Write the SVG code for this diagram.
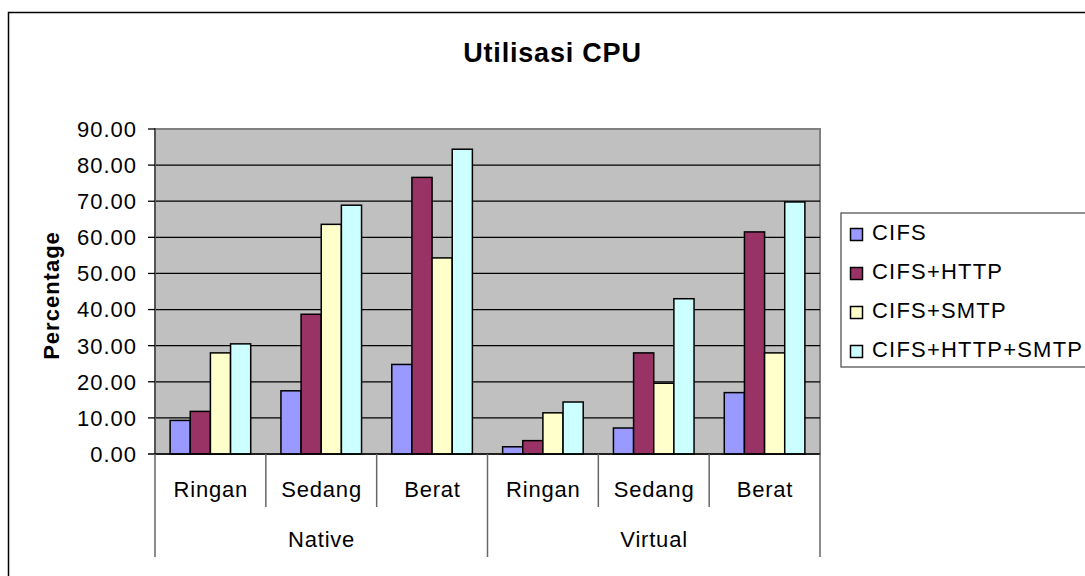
<svg xmlns="http://www.w3.org/2000/svg" width="1085" height="576" viewBox="0 0 1085 576">
<style>
text{font-family:"Liberation Sans",Arial,sans-serif;fill:#000}
.t{font-size:22px;letter-spacing:1.2px}
.tick{font-size:22px;letter-spacing:1px;text-anchor:end}
.cat{font-size:22px;letter-spacing:0.8px;text-anchor:middle}
.grid{stroke:#000;stroke-width:1.3}
.bar{stroke:#000;stroke-width:1.5}
.s1{fill:#9999FF}.s2{fill:#993366}.s3{fill:#FFFFCC}.s4{fill:#CCFFFF}
.ax{stroke:#000;stroke-width:1.3}
.div{stroke:#666;stroke-width:1.5}
</style>
<rect x="0" y="0" width="1085" height="576" fill="#fff"/>
<rect id="chartArea" x="8.5" y="12.5" width="1100" height="600" fill="#fff" stroke="#000" stroke-width="1.5"/>
<text id="title" x="552.5" y="62" text-anchor="middle" style="font-size:27px;font-weight:bold;letter-spacing:0.8px">Utilisasi CPU</text>
<g id="plot">
<rect x="155" y="129" width="665" height="325" fill="#C0C0C0" stroke="#808080" stroke-width="2"/>
<line class="grid" x1="155" y1="417.89" x2="820" y2="417.89"/>
<line class="grid" x1="155" y1="381.78" x2="820" y2="381.78"/>
<line class="grid" x1="155" y1="345.67" x2="820" y2="345.67"/>
<line class="grid" x1="155" y1="309.56" x2="820" y2="309.56"/>
<line class="grid" x1="155" y1="273.44" x2="820" y2="273.44"/>
<line class="grid" x1="155" y1="237.33" x2="820" y2="237.33"/>
<line class="grid" x1="155" y1="201.22" x2="820" y2="201.22"/>
<line class="grid" x1="155" y1="165.11" x2="820" y2="165.11"/>
</g>
<g id="bars">
<rect class="bar s1" x="170.11" y="420.42" width="20.15" height="33.58"/>
<rect class="bar s2" x="190.26" y="411.39" width="20.15" height="42.61"/>
<rect class="bar s3" x="210.41" y="352.89" width="20.15" height="101.11"/>
<rect class="bar s4" x="230.56" y="343.86" width="20.15" height="110.14"/>
<rect class="bar s1" x="280.94" y="390.81" width="20.15" height="63.19"/>
<rect class="bar s2" x="301.09" y="314.25" width="20.15" height="139.75"/>
<rect class="bar s3" x="321.24" y="224.34" width="20.15" height="229.66"/>
<rect class="bar s4" x="341.39" y="205.20" width="20.15" height="248.80"/>
<rect class="bar s1" x="391.78" y="364.45" width="20.15" height="89.55"/>
<rect class="bar s2" x="411.93" y="177.40" width="20.15" height="276.60"/>
<rect class="bar s3" x="432.08" y="257.92" width="20.15" height="196.08"/>
<rect class="bar s4" x="452.23" y="149.23" width="20.15" height="304.77"/>
<rect class="bar s1" x="502.61" y="446.78" width="20.15" height="7.22"/>
<rect class="bar s2" x="522.76" y="440.64" width="20.15" height="13.36"/>
<rect class="bar s3" x="542.91" y="412.83" width="20.15" height="41.17"/>
<rect class="bar s4" x="563.06" y="402.00" width="20.15" height="52.00"/>
<rect class="bar s1" x="613.44" y="428.00" width="20.15" height="26.00"/>
<rect class="bar s2" x="633.59" y="352.89" width="20.15" height="101.11"/>
<rect class="bar s3" x="653.74" y="383.22" width="20.15" height="70.78"/>
<rect class="bar s4" x="673.89" y="298.73" width="20.15" height="155.27"/>
<rect class="bar s1" x="724.28" y="392.61" width="20.15" height="61.39"/>
<rect class="bar s2" x="744.43" y="231.92" width="20.15" height="222.08"/>
<rect class="bar s3" x="764.58" y="352.89" width="20.15" height="101.11"/>
<rect class="bar s4" x="784.73" y="201.95" width="20.15" height="252.05"/>
</g>
<g id="axes">
<line x1="155" y1="128" x2="155" y2="455" stroke="#555" stroke-width="2"/>
<line class="ax" x1="148" y1="454" x2="820" y2="454"/>
<line class="ax" x1="148" y1="417.89" x2="155" y2="417.89"/>
<line class="ax" x1="148" y1="381.78" x2="155" y2="381.78"/>
<line class="ax" x1="148" y1="345.67" x2="155" y2="345.67"/>
<line class="ax" x1="148" y1="309.56" x2="155" y2="309.56"/>
<line class="ax" x1="148" y1="273.44" x2="155" y2="273.44"/>
<line class="ax" x1="148" y1="237.33" x2="155" y2="237.33"/>
<line class="ax" x1="148" y1="201.22" x2="155" y2="201.22"/>
<line class="ax" x1="148" y1="165.11" x2="155" y2="165.11"/>
<line class="ax" x1="148" y1="129" x2="155" y2="129"/>
<line class="div" x1="155" y1="454" x2="155" y2="557"/>
<line class="div" x1="265.83" y1="454" x2="265.83" y2="507"/>
<line class="div" x1="376.67" y1="454" x2="376.67" y2="507"/>
<line class="div" x1="487.5" y1="454" x2="487.5" y2="557"/>
<line class="div" x1="598.33" y1="454" x2="598.33" y2="507"/>
<line class="div" x1="709.17" y1="454" x2="709.17" y2="507"/>
<line class="div" x1="820" y1="454" x2="820" y2="557"/>
</g>
<g id="yLabels">
<text class="tick" x="137" y="461.8">0.00</text>
<text class="tick" x="137" y="425.7">10.00</text>
<text class="tick" x="137" y="389.6">20.00</text>
<text class="tick" x="137" y="353.5">30.00</text>
<text class="tick" x="137" y="317.4">40.00</text>
<text class="tick" x="137" y="281.2">50.00</text>
<text class="tick" x="137" y="245.1">60.00</text>
<text class="tick" x="137" y="209">70.00</text>
<text class="tick" x="137" y="172.9">80.00</text>
<text class="tick" x="137" y="136.8">90.00</text>
<text x="59" y="295.5" text-anchor="middle" transform="rotate(-90 59 295.5)" style="font-size:22px;font-weight:bold;letter-spacing:1px">Percentage</text>
</g>
<g id="xLabels">
<text class="cat" x="210.8" y="497">Ringan</text>
<text class="cat" x="321.6" y="497">Sedang</text>
<text class="cat" x="432.5" y="497">Berat</text>
<text class="cat" x="543.3" y="497">Ringan</text>
<text class="cat" x="654.1" y="497">Sedang</text>
<text class="cat" x="765" y="497">Berat</text>
<text class="cat" x="321.6" y="547">Native</text>
<text class="cat" x="654.1" y="547">Virtual</text>
</g>
<g id="legend">
<rect x="841" y="213" width="260" height="154" fill="#fff" stroke="#555" stroke-width="1.3"/>
<rect class="bar s1" x="850.5" y="228.5" width="12" height="12"/>
<text class="t" x="872" y="239.5">CIFS</text>
<rect class="bar s2" x="850.5" y="267.5" width="12" height="12"/>
<text class="t" x="872" y="278.5">CIFS+HTTP</text>
<rect class="bar s3" x="850.5" y="306.5" width="12" height="12"/>
<text class="t" x="872" y="317.5">CIFS+SMTP</text>
<rect class="bar s4" x="850.5" y="345.5" width="12" height="12"/>
<text class="t" x="872" y="356.5">CIFS+HTTP+SMTP</text>
</g>
</svg>
